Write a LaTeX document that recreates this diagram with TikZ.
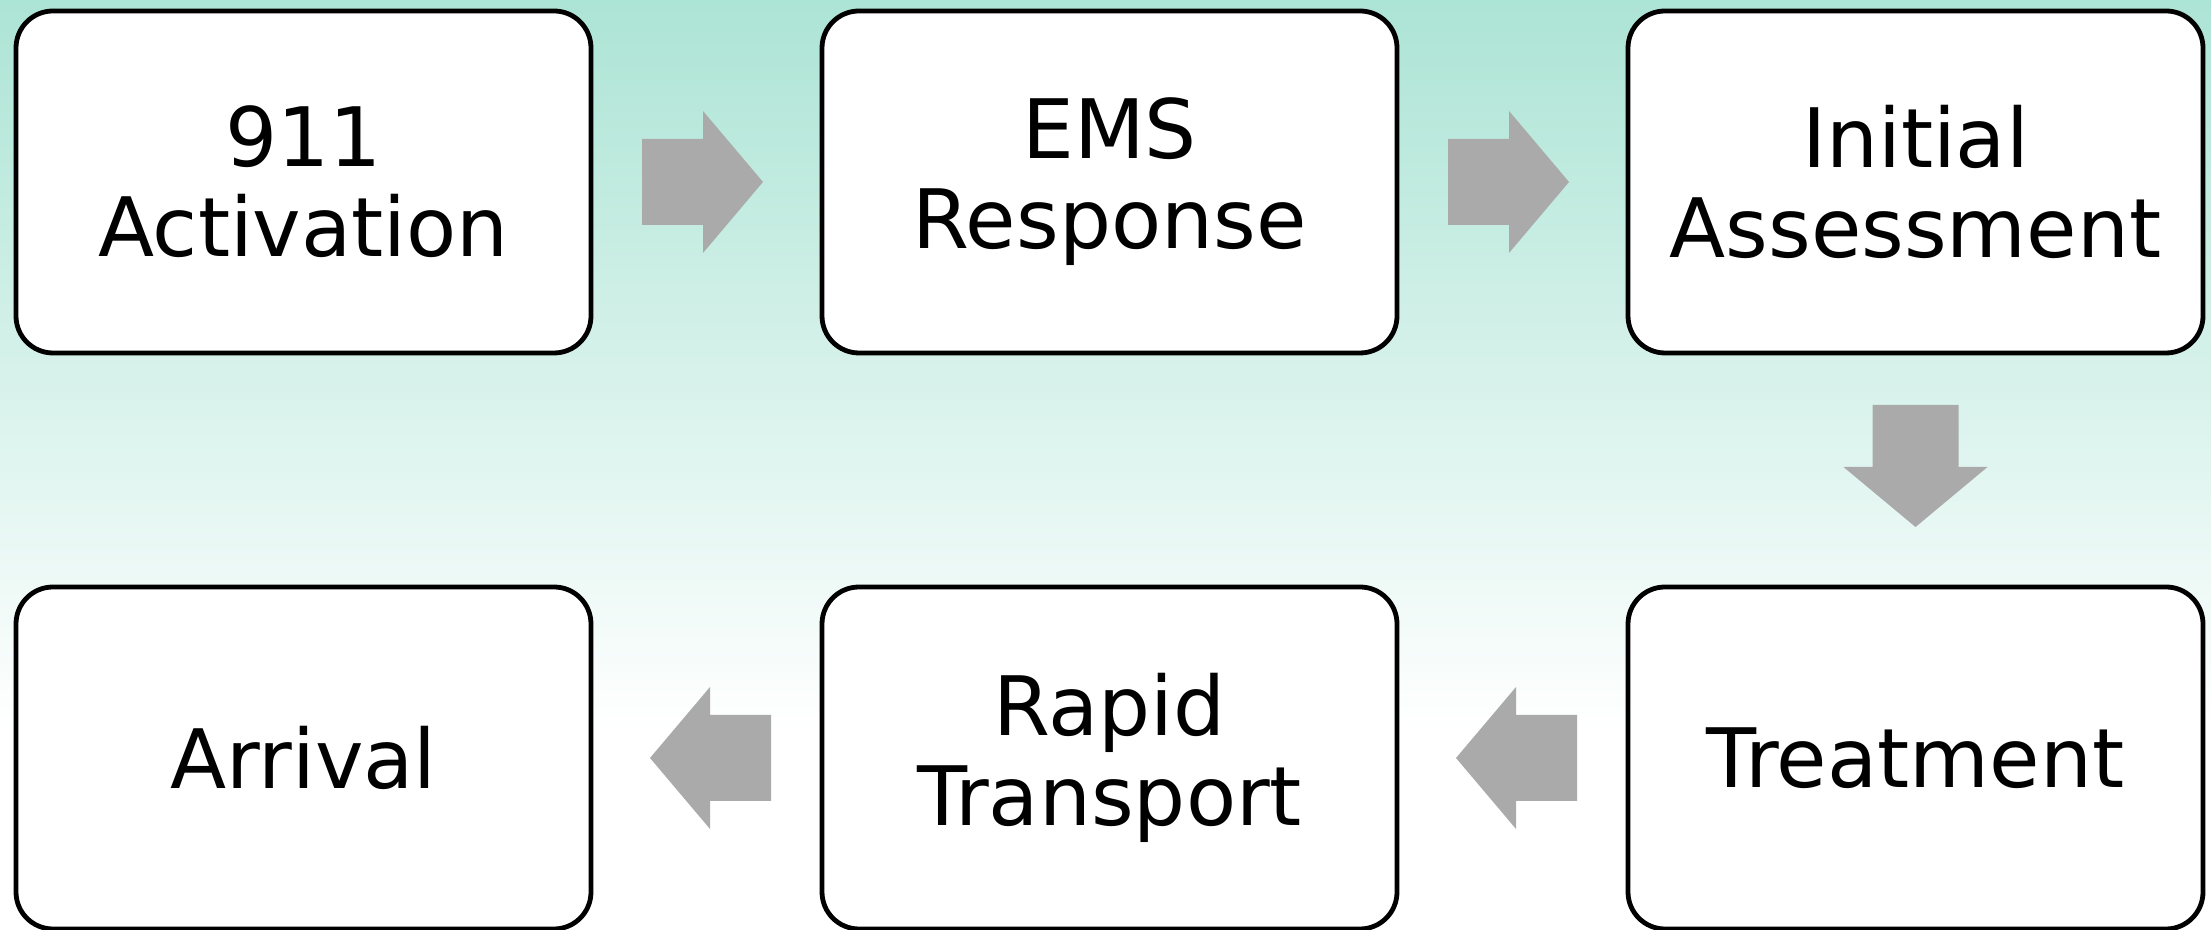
\documentclass[tikz,border=0pt]{standalone}
\usepackage{fontspec}
\setmainfont{DejaVu Sans}
\usetikzlibrary{calc}
\definecolor{bgtop}{HTML}{ACE4D5}
\definecolor{arrowgray}{HTML}{AAAAAA}
\tikzset{
  stage/.style={draw=black, line width=2.4pt, fill=white, rounded corners=18.5pt,
    minimum width=287.5pt, minimum height=171pt, inner sep=0pt, outer sep=0pt,
    align=center, font=\fontsize{41pt}{45pt}\selectfont},
  blockarrow/.style={fill=arrowgray, draw=none}
}
\begin{document}
\begin{tikzpicture}[x=0.5pt,y=0.5pt]
% background wash: tint fading to white toward the lower part
\fill[white] (0,0) rectangle (2211,200);
\shade[top color=bgtop, bottom color=white] (0,200) rectangle (2211,930);
\useasboundingbox (0,0) rectangle (2211,930);

% process stages
\node[stage] (act)    at (303.5,748)  {911\\Activation};
\node[stage] (ems)    at (1109.5,748) {EMS\\Response};
\node[stage] (assess) at (1915.5,748) {Initial\\Assessment};
\node[stage] (treat)  at (1915.5,172) {Treatment};
\node[stage] (trans)  at (1109.5,172) {Rapid\\Transport};
\node[stage] (arr)    at (303.5,172)  {Arrival};

% block arrows, top row (left to right)
\fill[blockarrow] ($(act.east)+(51,0)$) ++(0,43) -- ++(61,0) -- ++(0,28)
  -- ++(60,-71) -- ++(-60,-71) -- ++(0,28) -- ++(-61,0) -- cycle;
\fill[blockarrow] ($(ems.east)+(51,0)$) ++(0,43) -- ++(61,0) -- ++(0,28)
  -- ++(60,-71) -- ++(-60,-71) -- ++(0,28) -- ++(-61,0) -- cycle;

% down arrow
\fill[blockarrow] ($(assess.south)+(0,-52)$) ++(-43,0) -- ++(86,0) -- ++(0,-62)
  -- ++(29,0) -- ++(-72,-60) -- ++(-72,60) -- ++(29,0) -- cycle;

% block arrows, bottom row (right to left)
\fill[blockarrow] ($(treat.west)+(-51,0)$) ++(0,43) -- ++(-61,0) -- ++(0,28)
  -- ++(-60,-71) -- ++(60,-71) -- ++(0,28) -- ++(61,0) -- cycle;
\fill[blockarrow] ($(trans.west)+(-51,0)$) ++(0,43) -- ++(-61,0) -- ++(0,28)
  -- ++(-60,-71) -- ++(60,-71) -- ++(0,28) -- ++(61,0) -- cycle;
\end{tikzpicture}
\end{document}
